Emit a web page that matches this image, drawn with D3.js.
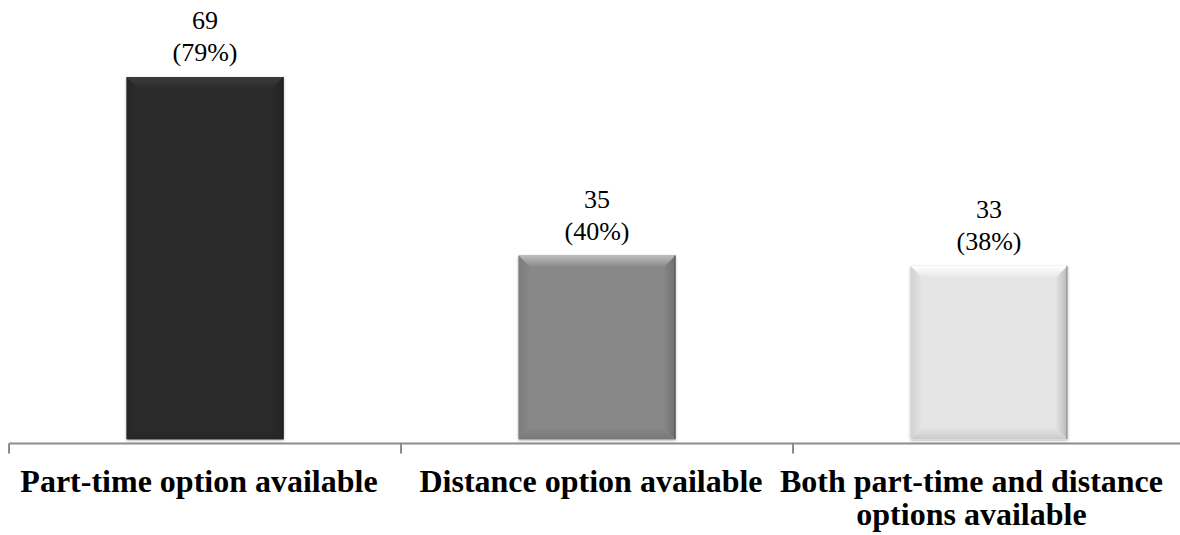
<!DOCTYPE html>
<html>
<head>
<meta charset="utf-8">
<script src="https://cdn.jsdelivr.net/npm/d3@7"></script>
</head>
<body style="margin:0;background:#fff">
<div id="chart"></div>
<script>
// chart data
const categories = [
  ["Part-time option available"],
  ["Distance option available"],
  ["Both part-time and distance", "options available"]
];
const counts = [69, 35, 33];
const percents = ["79%", "40%", "38%"];
const barColors = ["#2b2b2b", "#888888", "#e5e5e5"];

const FONT = '"Liberation Serif", "Times New Roman", serif';
const W = 1180, H = 535;
const svg = d3.select("#chart").append("svg")
  .attr("width", W).attr("height", H)
  .style("font-family", FONT);

const x = d3.scaleBand().domain(d3.range(categories.length))
  .range([9, 1185]).paddingInner(0.6).paddingOuter(0.3);
const y = d3.scaleLinear().domain([-0.8, 69]).range([443.5, 77]);

const defs = svg.append("defs");
const shadow = defs.append("filter").attr("id", "shadow")
  .attr("x", "-10%").attr("y", "-10%").attr("width", "120%").attr("height", "120%");
shadow.append("feDropShadow").attr("dx", 0).attr("dy", 1)
  .attr("stdDeviation", 1.5).attr("flood-color", "#000").attr("flood-opacity", 0.35);

// gradient helper for the bevel faces
function grad(id, x1, y1, x2, y2, c1, c2) {
  const g = defs.append("linearGradient").attr("id", id)
    .attr("x1", x1).attr("y1", y1).attr("x2", x2).attr("y2", y2);
  g.append("stop").attr("offset", "0%").attr("stop-color", c1);
  g.append("stop").attr("offset", "100%").attr("stop-color", c2);
}

const bw = x.bandwidth();
const bev = 12;

counts.forEach((v, i) => {
  const base = d3.color(barColors[i]);
  const light = base.brighter(i === 2 ? 0.4 : 0.9);
  const dark = base.darker(i === 0 ? 0.4 : 0.35);
  grad("top" + i, 0, 0, 0, 1, light, base);
  grad("bot" + i, 0, 1, 0, 0, dark, base);
  grad("lft" + i, 0, 0, 1, 0, base.darker(0.25), base);
  grad("rgt" + i, 1, 0, 0, 0, base.darker(0.6), base);

  const x0 = x(i), x1 = x0 + bw, y0 = y(v), y1 = y(0);
  const g = svg.append("g");
  g.append("rect").attr("x", x0).attr("y", y0).attr("width", bw)
    .attr("height", y1 - y0).attr("fill", base).attr("filter", "url(#shadow)");
  const poly = pts => pts.map(p => p.join(",")).join(" ");
  g.append("polygon").attr("points", poly([[x0, y0], [x0 + bev, y0 + bev], [x0 + bev, y1 - bev], [x0, y1]]))
    .attr("fill", `url(#lft${i})`);
  g.append("polygon").attr("points", poly([[x1, y0], [x1 - bev, y0 + bev], [x1 - bev, y1 - bev], [x1, y1]]))
    .attr("fill", `url(#rgt${i})`);
  g.append("polygon").attr("points", poly([[x0, y0], [x1, y0], [x1 - bev, y0 + bev], [x0 + bev, y0 + bev]]))
    .attr("fill", `url(#top${i})`);
  g.append("polygon").attr("points", poly([[x0, y1], [x1, y1], [x1 - bev, y1 - bev], [x0 + bev, y1 - bev]]))
    .attr("fill", `url(#bot${i})`);
  g.append("line").attr("x1", x1 - 0.5).attr("x2", x1 - 0.5).attr("y1", y0).attr("y2", y1)
    .attr("stroke", base.darker(1.2)).attr("stroke-width", 1.2);

  // value labels, one text per line
  const cx = x0 + bw / 2;
  [String(v), `(${percents[i]})`].forEach((s, j) => {
    svg.append("text").attr("text-anchor", "middle")
      .attr("x", cx).attr("y", y0 - 48 + j * 32)
      .style("font-family", FONT).attr("font-size", 26).attr("fill", "#000")
      .text(s);
  });
});

// category axis
const axisG = svg.append("g").attr("transform", "translate(0,443.5)");
axisG.append("line").attr("x1", 9).attr("x2", W).attr("y1", 0).attr("y2", 0)
  .attr("stroke", "#8c8c8c").attr("stroke-width", 2);
const step = x.step();
const edges = d3.range(categories.length + 1)
  .map(k => x(0) - x.paddingOuter() * step + k * step);
edges.forEach(ex => {
  axisG.append("line").attr("x1", ex).attr("x2", ex).attr("y1", 0).attr("y2", 10)
    .attr("stroke", "#8c8c8c").attr("stroke-width", 2);
});

categories.forEach((lines, i) => {
  const cx = x(i) + bw / 2 - 6;
  const texts = lines.map((ln, j) => svg.append("text").attr("text-anchor", "middle")
    .attr("x", cx).attr("y", 492 + j * 33)
    .style("font-family", FONT).style("font-weight", "bold")
    .attr("font-size", 32).attr("fill", "#000").text(ln));
  // keep the label inside the plot area
  const right = d3.max(texts, t => { const b = t.node().getBBox(); return b.x + b.width; });
  const over = right - (W - 17);
  if (over > 0) texts.forEach(t => t.attr("x", cx - over));
});
</script>
</body>
</html>
